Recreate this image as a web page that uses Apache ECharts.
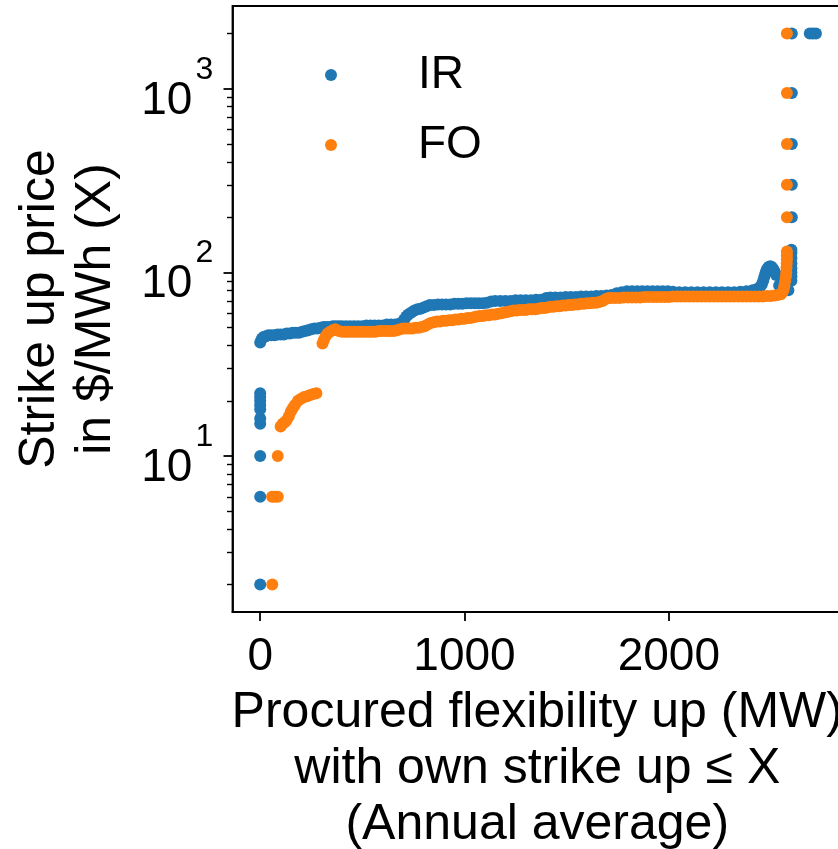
<!DOCTYPE html>
<html><head><meta charset="utf-8">
<script src="https://cdn.jsdelivr.net/npm/echarts@6/dist/echarts.min.js"></script>
<style>html,body{margin:0;padding:0;background:#fff}#c{width:838px;height:849px}</style>
</head><body><div id="c"></div>
<script>
const seriesNames = ['IR', 'FO'];
const xTicks = [0, 1000, 2000];
const yMajorTicks = [10, 100, 1000];
const yMinorTicks = [2,3,4,5,6,7,8,9,20,30,40,50,60,70,80,90,200,300,400,500,600,700,800,900,2000];

// IR (blue)
const irX = [
 0,0,0,0,0,0,0,0,0,0,
 0,8,16,28,40,55,70,85,100,115,
 130,145,160,175,190,205,220,235,250,265,
 280,295,310,325,340,355,370,385,400,420,
 440,460,480,500,520,540,560,580,600,620,
 640,660,680,695,705,715,725,740,755,770,
 785,800,815,830,850,870,890,910,930,950,
 970,990,1010,1030,1050,1070,1090,1110,1130,1150,
 1175,1200,1225,1250,1275,1300,1325,1350,1375,1400,
 1420,1445,1470,1495,1520,1545,1570,1595,1620,1645,
 1670,1695,1720,1745,1770,1795,1820,1845,1870,1895,
 1920,1945,1970,1995,2020,2050,2080,2110,2140,2170,
 2200,2230,2260,2290,2320,2350,2380,2410,2430,2445,
 2455,2462,2468,2474,2480,2488,2496,2504,2512,2520,
 2525,2540,2555,2570,2585,2600,2600,2600,2600,2600,
 2600,2600,2600,2602,2602,2602,2602,2602,2690,2705,
 2720];
const irY = [
 2,6,10,15,16,18,19,20,21,22,
 41.5,43.5,44.5,45,45.5,45.5,45.5,46,46,46,
 46.5,46.5,47,47,47,47.5,48,48.5,49,49.5,
 49.5,50,50.5,50.5,50.5,51,51,51,51,51,
 51,51,51,51,51.5,51.5,51.5,51.5,51.5,52,
 52,52,52.5,53.5,55.5,57.5,59,60.5,62,63,
 63.5,64.5,65.5,66.5,66.5,67,67,67,67,67.5,
 67.5,67.5,68,68,68,68,68,68.5,69.5,70,
 70,70,70,70.5,70.5,70.5,70.5,71,71,72.5,
 73,73,73,73.5,73.5,73.5,74,74,74,74.5,
 74.5,75,75.5,77,78,79,79,79,79,79,
 79,79,79,79,78.5,78,78,78,78,78,
 78,78,78,78,78,78.5,79,80,81,83,
 86,90,95,100,104,107,108,107,104,100,
 97,85,82,80,80,90,95,100,105,112,
 120,128,133,200,300,500,950,2000,2000,2000,
 2000];

// FO (orange)
const foX = [
 59,58,72,86,86,100,110,120,130,140,
 150,160,170,185,200,215,230,245,260,275,
 305,312,320,330,342,355,368,385,400,415,
 430,445,460,475,490,505,520,535,550,565,
 580,595,610,625,640,655,670,685,700,715,
 730,745,760,775,790,805,820,835,850,865,
 880,895,910,925,940,955,970,985,1000,1015,
 1030,1045,1060,1075,1090,1105,1120,1135,1150,1165,
 1180,1195,1210,1225,1240,1255,1270,1285,1300,1315,
 1330,1345,1360,1375,1390,1405,1420,1435,1450,1465,
 1480,1495,1510,1525,1540,1555,1570,1585,1600,1615,
 1630,1645,1660,1675,1690,1705,1720,1740,1760,1780,
 1800,1820,1840,1860,1880,1900,1920,1940,1960,1980,
 2000,2020,2040,2060,2080,2100,2120,2140,2160,2180,
 2200,2220,2240,2260,2280,2300,2320,2340,2360,2380,
 2400,2420,2440,2460,2480,2500,2520,2535,2548,2556,
 2562,2566,2570,2573,2575,2576,2577,2578,2578,2578,
 2578,2578,2578,2578,2578];
const foY = [
 2,6,6,6,10,14.5,15,15.3,15.7,16.5,
 17.5,18.3,19,20,20.5,21,21.2,21.5,21.8,22,
 41,43,45,46.5,47.5,48.5,49,48,47.5,47.5,
 47.5,47.5,47.5,47.5,47.5,47.5,47.5,47.5,47.5,47.5,
 48,48,48,48,48,48,48.5,49,49.5,49.5,
 49.5,49.5,50,50,50.5,51,52,53,53.5,54,
 54,54.5,54.5,55,55,55.5,55.5,56,56,56.5,
 56.5,57,57.5,58,58,58.5,58.5,59,59,59.5,
 60,60.5,61,61.5,62,62,62.5,62.5,62.5,63,
 63,63,63.5,64,64,64.5,65,65,65.5,65.5,
 66,66,66.5,66.5,67,67,67.5,67.5,68,68,
 68.5,68.5,69,70,71.5,72.5,72.5,72.5,72.5,73,
 73,73,73,73,73.5,73.5,73.5,73.5,73.5,73.5,
 73.5,74,74,74,74,74,74,74,74,74,
 74,74,74,74,74,74,74,74,74,74,
 74,74,74,74,74.5,74.5,75,75.5,76,78,
 81,85,90,95,100,106,112,118,124,130,
 200,300,500,950,2000];

const X_MIN = -135.6, X_MAX = 2847.6;
const Y_MIN = 2 / Math.pow(10, 0.15), Y_MAX = 2000 * Math.pow(10, 0.15);

const FONT = '"Liberation Sans", Arial, sans-serif';
const toPairs = (xs, ys) => xs.map((x, i) => [x, ys[i]]);

const chart = echarts.init(document.getElementById('c'), null, {renderer: 'canvas'});
chart.setOption({
  animation: false,
  backgroundColor: '#fff',
  grid: {left: 232.5, top: 6, right: -4, bottom: 237, show: true, borderColor: '#000', borderWidth: 1.8,
         backgroundColor: 'transparent', containLabel: false, outerBoundsMode: 'none'},
  legend: {
    data: seriesNames, orient: 'vertical', left: 320, top: 43,
    itemWidth: 12, itemHeight: 12, itemGap: 16, icon: 'circle',
    textStyle: {fontSize: 46, lineHeight: 46, fontFamily: FONT, color: '#000', padding: [0, 0, 8, 76]}
  },
  xAxis: {
    type: 'value', min: X_MIN, max: X_MAX,
    axisLine: {show: true, onZero: false, lineStyle: {color: '#000', width: 1.8}},
    axisTick: {show: true, length: 9, lineStyle: {color: '#000', width: 1.8}, customValues: xTicks},
    axisLabel: {customValues: xTicks, fontSize: 46, fontFamily: FONT, color: '#000', margin: 22,
                formatter: v => String(v)},
    splitLine: {show: false},
    name: 'Procured flexibility up (MW)\nwith own strike up \u2264 X\n(Annual average)',
    nameLocation: 'middle', nameGap: 65,
    nameTextStyle: {fontSize: 50, lineHeight: 56, fontFamily: FONT, color: '#000', align: 'center'}
  },
  yAxis: [{
    type: 'log', logBase: 10, min: Y_MIN, max: Y_MAX,
    axisLine: {show: true, onZero: false, lineStyle: {color: '#000', width: 1.8}},
    axisTick: {show: true, length: 9, lineStyle: {color: '#000', width: 1.8}, customValues: yMajorTicks},
    axisLabel: {
      customValues: yMajorTicks, margin: 19, color: '#000',
      formatter: v => '{b|10}{s|' + Math.round(Math.log10(v)) + '}{h| }',
      rich: {
        b: {fontSize: 46, fontFamily: FONT, color: '#000', verticalAlign: 'bottom', lineHeight: 46},
        s: {fontSize: 32, fontFamily: FONT, color: '#000', verticalAlign: 'top', lineHeight: 45, padding: [0, 0, 0, 3]},
        h: {fontSize: 1, fontFamily: FONT, color: '#000', verticalAlign: 'middle', lineHeight: 70}
      }
    },
    splitLine: {show: false},
    name: 'Strike up price\nin $/MWh (X)', nameLocation: 'middle', nameGap: 108, nameRotate: 90,
    nameTextStyle: {fontSize: 50, lineHeight: 56, fontFamily: FONT, color: '#000', align: 'center'}
  }, {
    type: 'log', logBase: 10, min: Y_MIN, max: Y_MAX, position: 'left',
    axisLine: {show: false, onZero: false},
    axisTick: {show: true, length: 5.5, lineStyle: {color: '#000', width: 1.4}, customValues: yMinorTicks},
    axisLabel: {show: false},
    splitLine: {show: false}
  }],
  series: [
    {name: seriesNames[0], type: 'scatter', data: toPairs(irX, irY), symbolSize: 12, itemStyle: {color: '#1f77b4', opacity: 1}, z: 2},
    {name: seriesNames[1], type: 'scatter', data: toPairs(foX, foY), symbolSize: 12, itemStyle: {color: '#ff7f0e', opacity: 1}, z: 3}
  ]
});
</script></body></html>
